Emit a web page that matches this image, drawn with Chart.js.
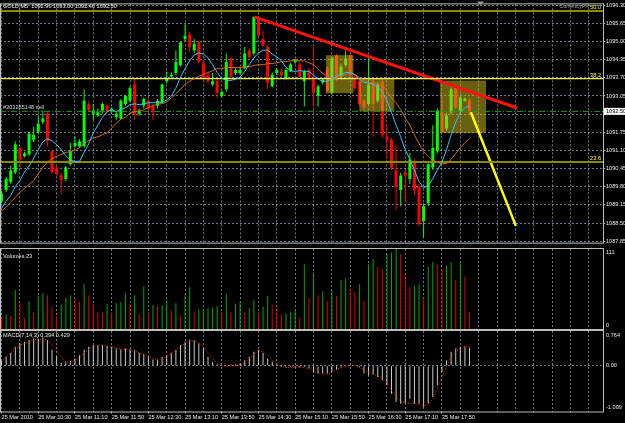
<!DOCTYPE html>
<html><head><meta charset="utf-8">
<script src="https://cdn.jsdelivr.net/npm/chart.js@4.4.1/dist/chart.umd.min.js"></script>
<style>
html,body{margin:0;padding:0;background:#000;width:625px;height:423px;overflow:hidden}
canvas{position:absolute;left:0}
#c1{top:0}#c2{top:247px}#c3{top:330px}
</style></head><body>
<canvas id="c1" width="625" height="247"></canvas>
<canvas id="c2" width="625" height="83"></canvas>
<canvas id="c3" width="625" height="93"></canvas>
<script>
// ---------------- DATA ----------------
const timeLabels = ["25 Mar 2010","25 Mar 10:30","25 Mar 11:10","25 Mar 11:50","25 Mar 12:30","25 Mar 13:10","25 Mar 13:50","25 Mar 14:30","25 Mar 15:10","25 Mar 15:50","25 Mar 16:30","25 Mar 17:10","25 Mar 17:50"];
const openP = [1089.27,1089.68,1089.97,1090.32,1091.19,1090.90,1090.96,1091.48,1091.77,1092.12,1092.41,1091.07,1090.49,1090.20,1090.08,1090.61,1091.25,1091.25,1091.25,1092.76,1092.41,1092.35,1092.53,1092.70,1092.53,1092.30,1092.24,1092.76,1092.88,1093.46,1092.41,1092.70,1092.88,1092.70,1092.70,1092.82,1093.58,1093.75,1093.87,1094.16,1095.09,1095.26,1094.68,1094.97,1094.22,1093.81,1093.46,1093.58,1093.05,1093.29,1094.39,1093.87,1093.87,1094.04,1094.68,1094.57,1095.84,1095.09,1094.80,1093.40,1093.87,1093.93,1093.69,1093.93,1094.27,1094.18,1093.58,1093.98,1093.64,1093.05,1093.52,1094.04,1093.17,1094.51,1093.75,1094.16,1094.51,1093.75,1093.58,1092.88,1092.76,1093.58,1092.88,1093.58,1091.60,1091.48,1090.38,1089.68,1090.32,1090.08,1090.67,1089.79,1088.57,1089.21,1090.49,1091.07,1092.47,1091.89,1092.47,1093.34,1092.53,1092.88,1092.90];
const highP = [1089.65,1090.15,1090.55,1091.42,1091.25,1091.05,1091.77,1091.95,1092.35,1092.53,1092.47,1091.10,1090.55,1090.30,1090.55,1091.37,1091.60,1091.50,1093.29,1092.88,1092.76,1092.60,1092.82,1092.76,1092.65,1092.50,1092.94,1093.10,1093.40,1093.67,1092.60,1093.00,1092.94,1092.76,1092.94,1093.50,1093.93,1093.90,1094.68,1095.00,1095.61,1095.35,1095.09,1095.00,1094.30,1093.90,1093.87,1093.65,1093.25,1094.57,1094.45,1094.05,1094.10,1094.80,1094.75,1095.90,1095.88,1095.38,1094.86,1093.90,1094.05,1094.04,1094.05,1094.25,1094.37,1094.25,1094.00,1094.05,1094.80,1093.46,1093.69,1094.10,1094.45,1094.57,1094.20,1094.68,1094.57,1093.80,1093.65,1092.94,1094.39,1093.65,1093.55,1093.65,1092.00,1091.55,1091.31,1090.30,1090.40,1091.02,1090.80,1089.90,1089.20,1090.70,1092.00,1092.60,1093.00,1092.45,1093.35,1093.45,1093.05,1093.00,1093.00];
const lowP = [1089.20,1089.60,1089.90,1090.25,1090.49,1090.85,1090.90,1091.40,1091.70,1092.05,1091.25,1090.28,1090.20,1089.56,1090.00,1090.55,1091.20,1091.20,1091.20,1092.47,1092.18,1092.30,1092.41,1092.41,1092.45,1092.20,1092.20,1092.70,1092.82,1092.18,1092.35,1092.60,1092.50,1092.18,1092.60,1092.76,1093.50,1093.70,1093.80,1094.10,1095.00,1094.62,1094.60,1094.20,1093.60,1093.50,1093.40,1092.99,1093.00,1093.20,1093.70,1093.80,1093.80,1094.00,1094.40,1094.50,1095.15,1094.80,1093.29,1093.35,1093.80,1093.75,1093.65,1093.90,1094.20,1093.70,1092.67,1093.60,1092.65,1092.67,1093.46,1093.17,1093.10,1093.58,1093.70,1094.10,1093.75,1093.25,1092.70,1092.55,1092.70,1091.60,1092.80,1091.55,1090.80,1090.40,1088.98,1089.10,1089.27,1089.90,1089.50,1088.40,1087.99,1089.10,1090.40,1091.00,1091.70,1091.80,1092.40,1092.60,1092.45,1092.85,1092.40];
const closeP = [1089.56,1090.08,1090.38,1091.31,1090.78,1090.99,1091.71,1091.66,1092.06,1092.24,1091.42,1090.32,1090.26,1090.03,1090.49,1091.07,1091.37,1091.42,1092.88,1092.53,1092.53,1092.47,1092.76,1092.47,1092.59,1092.41,1092.88,1093.05,1093.34,1092.41,1092.53,1092.94,1092.59,1092.47,1092.88,1093.46,1093.69,1093.81,1094.27,1094.97,1095.21,1094.80,1094.92,1094.27,1093.69,1093.58,1093.58,1093.17,1093.20,1094.27,1093.75,1093.98,1093.98,1094.57,1094.45,1095.88,1095.21,1094.86,1093.52,1093.81,1093.98,1093.79,1093.98,1094.18,1094.33,1093.75,1093.93,1093.69,1093.17,1093.40,1093.64,1093.23,1094.39,1093.64,1094.10,1094.39,1093.81,1093.34,1092.76,1092.65,1093.46,1092.76,1093.48,1091.66,1091.48,1090.49,1089.79,1090.20,1090.20,1090.78,1089.68,1088.46,1089.10,1090.61,1091.19,1092.53,1091.77,1092.35,1093.29,1092.64,1092.99,1092.95,1092.50];
const maFast = [1089.04,1089.28,1089.49,1089.81,1090.02,1090.33,1090.54,1090.82,1091.13,1091.41,1091.52,1091.45,1091.31,1091.13,1090.92,1090.75,1090.71,1090.71,1091.03,1091.34,1091.73,1092.01,1092.29,1092.49,1092.56,1092.49,1092.56,1092.63,1092.74,1092.77,1092.74,1092.77,1092.81,1092.81,1092.84,1092.81,1092.91,1093.05,1093.33,1093.72,1094.03,1094.31,1094.52,1094.59,1094.55,1094.41,1094.17,1093.89,1093.68,1093.61,1093.61,1093.65,1093.72,1093.93,1094.17,1094.41,1094.59,1094.69,1094.69,1094.55,1094.45,1094.31,1094.07,1093.96,1093.93,1093.96,1093.93,1093.93,1093.79,1093.65,1093.58,1093.58,1093.65,1093.75,1093.82,1093.89,1093.89,1093.82,1093.65,1093.54,1093.51,1093.47,1093.37,1093.19,1092.88,1092.46,1092.01,1091.59,1091.13,1090.78,1090.40,1089.98,1089.77,1089.84,1090.09,1090.40,1090.68,1091.13,1091.66,1092.11,1092.46,1092.63,1092.70];
const maSlow = [1088.93,1089.07,1089.25,1089.42,1089.60,1089.74,1089.88,1090.02,1090.26,1090.50,1090.68,1090.82,1090.89,1090.96,1091.03,1091.06,1091.10,1091.20,1091.34,1091.45,1091.55,1091.59,1091.66,1091.73,1091.90,1092.08,1092.22,1092.29,1092.43,1092.49,1092.49,1092.56,1092.63,1092.70,1092.77,1092.77,1092.84,1092.98,1093.12,1093.30,1093.47,1093.58,1093.68,1093.75,1093.82,1093.89,1093.96,1094.03,1094.03,1094.07,1094.07,1094.07,1094.07,1094.10,1094.10,1094.14,1094.17,1094.17,1094.21,1094.21,1094.24,1094.28,1094.28,1094.31,1094.35,1094.31,1094.31,1094.24,1094.17,1094.00,1093.86,1093.75,1093.68,1093.68,1093.75,1093.82,1093.86,1093.82,1093.72,1093.61,1093.54,1093.51,1093.47,1093.44,1093.23,1092.98,1092.81,1092.56,1092.25,1092.01,1091.66,1091.34,1091.06,1090.89,1090.75,1090.68,1090.61,1090.64,1090.78,1090.99,1091.20,1091.38,1091.52];
const volumes = [17,20,18,54,37,15,39,23,47,50,47,31,18,34,43,47,43,38,62,47,35,24,23,35,23,36,37,50,34,47,20,59,24,33,32,33,41,26,36,18,47,58,24,27,28,29,30,32,23,49,23,35,38,23,29,40,23,31,46,34,29,20,21,24,27,16,90,43,76,47,52,39,53,46,68,70,56,51,62,39,90,97,86,83,104,106,111,104,76,58,60,62,43,86,93,89,83,88,93,68,92,73,23];
const macdMain = [0.12,0.195,0.284,0.417,0.491,0.527,0.564,0.601,0.601,0.623,0.564,0.343,0.210,0.062,0.077,0.106,0.158,0.232,0.358,0.417,0.454,0.454,0.454,0.431,0.417,0.380,0.358,0.380,0.358,0.343,0.284,0.254,0.195,0.136,0.136,0.195,0.232,0.284,0.343,0.454,0.527,0.579,0.564,0.491,0.380,0.195,0.084,0.025,0.010,0.010,0.025,0.033,0.047,0.121,0.195,0.306,0.343,0.284,0.158,0.084,0.033,-0.027,-0.041,-0.027,-0.041,-0.041,-0.027,-0.064,-0.137,-0.174,-0.174,-0.174,-0.137,-0.086,-0.041,-0.012,0.010,0.010,-0.027,-0.174,-0.211,-0.196,-0.248,-0.322,-0.433,-0.617,-0.802,-0.839,-0.824,-0.728,-0.839,-0.839,-0.913,-0.839,-0.691,-0.433,-0.137,0.121,0.306,0.380,0.417,0.417,0.394];
const macdSignal = [0.121,0.195,0.284,0.380,0.454,0.491,0.527,0.564,0.579,0.579,0.564,0.454,0.343,0.195,0.084,0.069,0.106,0.195,0.269,0.358,0.417,0.446,0.454,0.439,0.417,0.380,0.365,0.365,0.358,0.328,0.284,0.254,0.210,0.165,0.136,0.151,0.210,0.269,0.358,0.417,0.491,0.550,0.542,0.505,0.417,0.284,0.158,0.047,0.003,-0.012,-0.004,0.003,0.018,0.062,0.151,0.254,0.328,0.313,0.232,0.121,0.033,-0.012,-0.034,-0.041,-0.034,-0.027,-0.041,-0.064,-0.115,-0.160,-0.189,-0.189,-0.145,-0.086,-0.041,-0.012,0.010,0.003,-0.041,-0.086,-0.145,-0.189,-0.219,-0.285,-0.396,-0.544,-0.691,-0.780,-0.824,-0.824,-0.824,-0.854,-0.883,-0.854,-0.728,-0.507,-0.248,-0.012,0.195,0.306,0.380,0.417,0.429];
const priceTicks = [1087.85,1088.50,1089.15,1089.80,1090.45,1091.10,1091.75,1092.40,1093.05,1093.70,1094.35,1095.00,1095.65,1096.30];
const fibLevels = [1096.09,1093.67,1090.69];
const fibNames = ["50.0","38.2","23.6"];
const orderPrice = 1092.50;
const bidPrice = 1092.50;
const orderText = "#303285148 sell";
const headerText = "GOLD,M5  1092.90 1093.00 1092.40 1092.50";
const trendRed = [[55.1,1095.88],[112.4,1092.62]];
const trendYellow = [[102.3,1092.47],[112.1,1088.40]];
const boxes = [[70.7,76.7,1094.51,1093.15],[78.0,85.6,1093.67,1092.50],[95.6,105.6,1093.60,1091.72]];
const volTop = 111, macdTop = 0.764, macdBottom = -1.009;

// ---------------- STYLE ----------------
const FONT = "'Liberation Sans', Arial, sans-serif";
const FS = 5.6;
const GRID = 'rgba(120,136,153,0.9)';
const FRAME = '#bdbdbd';
const X_MIN = -0.338, X_MAX = 131.10;
const idx = openP.map((_, i) => i);

function xScale(showLabels) {
  return {
    type: 'linear', min: X_MIN, max: X_MAX, offset: false,
    afterBuildTicks: s => { const t = []; for (let v = 0; v <= 128; v += 4) t.push({value: v}); s.ticks = t; },
    grid: {display: true, color: GRID, lineWidth: 1, offset: false, drawTicks: showLabels, tickLength: 2,
      tickColor: c => (c.tick && c.tick.value % 8 === 0 && c.tick.value / 8 < timeLabels.length) ? '#bdbdbd' : 'rgba(0,0,0,0)',
      tickBorderDash: []},
    border: {display: false, dash: [2, 2]},
    ticks: {display: showLabels, autoSkip: false, maxRotation: 0, minRotation: 0, align: 'start', padding: 1,
      font: {family: FONT, size: FS}, color: '#e8e8e8',
      callback: v => (v % 8 === 0 && v / 8 < timeLabels.length) ? timeLabels[v / 8] : ''},
    afterFit: s => { s.height = showLabels ? 11.5 : 0; }
  };
}
function framePlugin(extra) {
  return {
    id: 'frame' + Math.random().toString(36).slice(2),
    afterDraw(chart) {
      const {ctx, chartArea: a} = chart;
      ctx.save();
      ctx.strokeStyle = FRAME; ctx.lineWidth = 1;
      ctx.strokeRect(0.5, a.top - 0.5, a.right, a.bottom - a.top + 1);
      ctx.restore();
      if (extra) extra(chart);
    }
  };
}
function txt(ctx, s, x, y, color, align, base) {
  ctx.save();
  ctx.font = FS + 'px ' + FONT;
  ctx.fillStyle = color; ctx.textAlign = align || 'left'; ctx.textBaseline = base || 'middle';
  ctx.fillText(s, x, y);
  ctx.restore();
}
const base = {responsive: false, animation: false, devicePixelRatio: 1,
  plugins: {legend: {display: false}, tooltip: {enabled: false}}};

// ---------------- MAIN PRICE CHART ----------------
const candleUp = '#00ff00', candleDn = '#ff0000';
const colorOf = i => closeP[i] > openP[i] ? candleUp : candleDn;

const boxPlugin = {
  id: 'boxes',
  afterDatasetDraw(chart, args) {
    if (args.index !== 1) return;
    const {ctx, scales: {x, y}, chartArea: a} = chart;
    ctx.save();
    ctx.beginPath(); ctx.rect(a.left, a.top, a.right - a.left, a.bottom - a.top); ctx.clip();
    ctx.fillStyle = 'rgba(214,192,32,0.5)';
    boxes.forEach(b => {
      const x1 = x.getPixelForValue(b[0]), x2 = x.getPixelForValue(b[1]);
      const y1 = y.getPixelForValue(b[2]), y2 = y.getPixelForValue(b[3]);
      ctx.fillRect(x1, y1, x2 - x1, y2 - y1);
    });
    ctx.restore();
  }
};
const mainText = framePlugin(chart => {
  const {ctx, scales: {y}, chartArea: a} = chart;
  txt(ctx, headerText, 3, 6, '#f0f0f0');
  txt(ctx, orderText, 3, y.getPixelForValue(orderPrice) - 3.5, '#d0d0d0');
  fibNames.forEach((n, k) => txt(ctx, n, a.right - 2, y.getPixelForValue(fibLevels[k]) - 3.2, '#ffff40', 'right'));
  txt(ctx, 'CurrencyFX', a.right - 14, 6, '#a8a8a8', 'right');
  // chart shift marker
  ctx.save(); ctx.fillStyle = '#9a9a9a'; ctx.beginPath();
  ctx.moveTo(477, 1.5); ctx.lineTo(484, 1.5); ctx.lineTo(480.5, 5); ctx.closePath(); ctx.fill(); ctx.restore();
  // bid label
  const by = y.getPixelForValue(bidPrice);
  ctx.save(); ctx.fillStyle = '#ffffff'; ctx.fillRect(a.right + 1, by - 3.5, 22, 7); ctx.restore();
  txt(ctx, bidPrice.toFixed(2), a.right + 3, by, '#000000');
});

const hLine = (v, color, w, dash) => ({type: 'line', data: [{x: X_MIN, y: v}, {x: X_MAX, y: v}],
  borderColor: color, borderWidth: w, borderDash: dash || [], pointRadius: 0, order: 0});

new Chart(document.getElementById('c1'), {
  type: 'bar',
  data: {datasets: [
    {type: 'line', data: idx.map(i => ({x: i, y: maFast[i]})), borderColor: '#35c4ff', borderWidth: 1, pointRadius: 0, order: 0, tension: 0},
    {data: idx.map(i => ({x: i, y: [openP[i], closeP[i]]})), backgroundColor: idx.map(colorOf), barThickness: 3, minBarLength: 1, grouped: false, inflateAmount: 0, borderWidth: 0, order: 1},
    {data: idx.map(i => ({x: i, y: [lowP[i], highP[i]]})), backgroundColor: idx.map(colorOf), barThickness: 1, grouped: false, inflateAmount: 0, borderWidth: 0, order: 2},
    {type: 'line', data: idx.map(i => ({x: i, y: maSlow[i]})), borderColor: '#d2691e', borderWidth: 1, pointRadius: 0, order: 0, tension: 0},
    hLine(fibLevels[0], '#8a8a00', 2),
    hLine(fibLevels[1], '#f0f060', 1.2),
    hLine(fibLevels[2], '#8a8a00', 2),
    hLine(orderPrice, '#1e9e1e', 1, [6, 2, 1, 2]),
    {type: 'line', data: trendRed.map(p => ({x: p[0], y: p[1]})), borderColor: '#ff1010', borderWidth: 3, pointRadius: 0, order: 0},
    {type: 'line', data: trendYellow.map(p => ({x: p[0], y: p[1]})), borderColor: '#ffff00', borderWidth: 2.5, pointRadius: 0, order: 0}
  ]},
  options: Object.assign({}, base, {
    layout: {padding: {left: 0, right: 0, top: 2, bottom: 1}},
    scales: {
      x: xScale(false),
      y: {type: 'linear', position: 'right', min: 1087.80, max: 1096.33,
        afterBuildTicks: s => { s.ticks = priceTicks.map(v => ({value: v})); },
        afterFit: s => { s.width = 22; },
        grid: {color: GRID, drawTicks: true, tickLength: 2, tickColor: '#bdbdbd', tickBorderDash: []},
        border: {display: false, dash: [2, 2]},
        ticks: {padding: 1, autoSkip: false, font: {family: FONT, size: FS}, color: '#e8e8e8',
          callback: v => Math.abs(v - bidPrice) < 0.2 ? '' : v.toFixed(2)}}
    }
  }),
  plugins: [boxPlugin, mainText]
});

// ---------------- VOLUMES ----------------
const volText = framePlugin(chart => {
  const {ctx, chartArea: a} = chart;
  txt(ctx, 'Volumes ' + volumes[volumes.length - 1], 3, a.top + 7, '#e8e8e8');
  txt(ctx, String(volTop), a.right + 3, a.top + 3.5, '#e8e8e8');
  txt(ctx, '0', a.right + 3, a.bottom - 4, '#e8e8e8');
});
new Chart(document.getElementById('c2'), {
  type: 'bar',
  data: {datasets: [{data: idx.map(i => ({x: i, y: volumes[i]})),
    backgroundColor: idx.map(i => (i > 0 && volumes[i] > volumes[i - 1]) ? '#00a800' : '#e00000'),
    barThickness: 1, grouped: false, inflateAmount: 0, borderWidth: 0}]},
  options: Object.assign({}, base, {
    layout: {padding: {left: 0, right: 0, top: 2, bottom: 1}},
    scales: {
      x: xScale(false),
      y: {type: 'linear', position: 'right', min: 0, max: volTop,
        afterFit: s => { s.width = 22; },
        grid: {display: false}, border: {display: false}, ticks: {display: false}}
    }
  }),
  plugins: [volText]
});

// ---------------- MACD ----------------
const macdText = framePlugin(chart => {
  const {ctx, scales: {y}, chartArea: a} = chart;
  txt(ctx, 'MACD(7,14,3) ' + macdMain[macdMain.length - 1].toFixed(3) + ' ' + macdSignal[macdSignal.length - 1].toFixed(3), 3, a.top + 4, '#e8e8e8');
  txt(ctx, macdTop.toFixed(3), a.right + 3, a.top + 4, '#e8e8e8');
  txt(ctx, '0.00', a.right + 3, y.getPixelForValue(0), '#e8e8e8');
  txt(ctx, macdBottom.toFixed(3), a.right + 3, a.bottom - 4, '#e8e8e8');
});
new Chart(document.getElementById('c3'), {
  type: 'bar',
  data: {datasets: [
    {type: 'line', data: idx.map(i => ({x: i, y: macdSignal[i]})), borderColor: '#ff2020', borderWidth: 1, borderDash: [1, 1.5], pointRadius: 0, order: 0},
    {data: idx.map(i => ({x: i, y: macdMain[i]})), backgroundColor: '#c8c8c8', barThickness: 1, grouped: false, inflateAmount: 0, borderWidth: 0, order: 1}
  ]},
  options: Object.assign({}, base, {
    layout: {padding: {left: 0, right: 0, top: 1, bottom: 0}},
    scales: {
      x: xScale(true),
      y: {type: 'linear', position: 'right', min: macdBottom, max: macdTop,
        afterBuildTicks: s => { s.ticks = [{value: 0}]; },
        afterFit: s => { s.width = 22; },
        grid: {color: GRID, drawTicks: false},
        border: {display: false, dash: [2, 2]},
        ticks: {display: false}}
    }
  }),
  plugins: [macdText]
});
</script></body></html>
